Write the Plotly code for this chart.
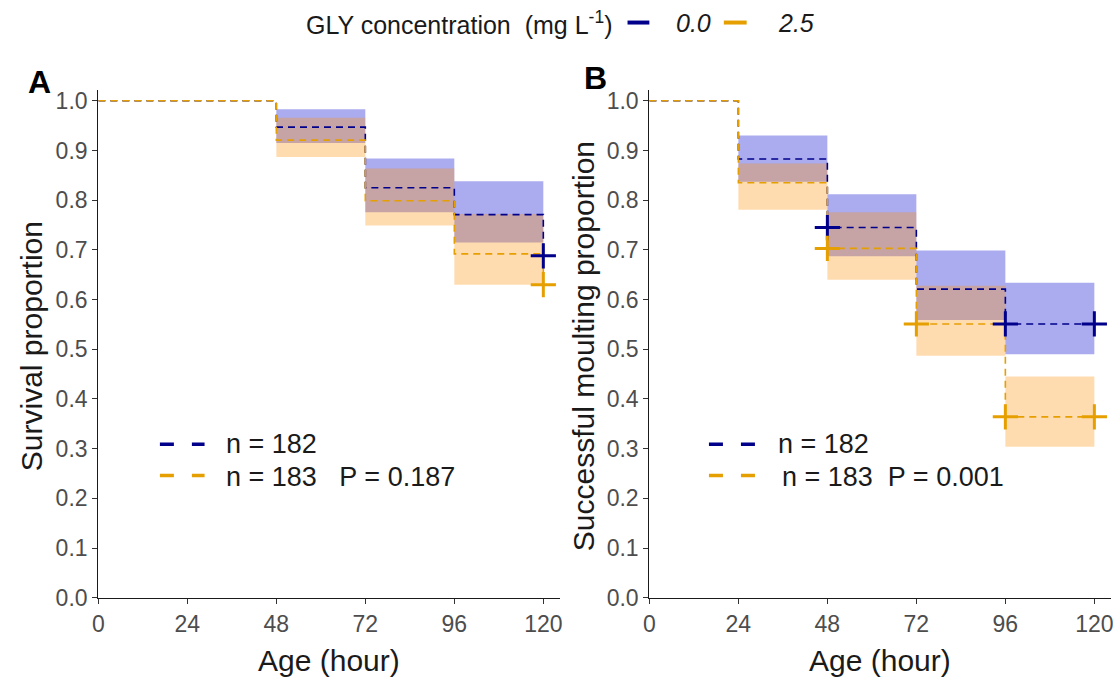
import plotly.graph_objects as go

# ---------------- data ----------------
A_times = [0, 48, 72, 96, 120]
A_blue_surv = [1.0, 0.947, 0.825, 0.771, 0.688]
A_blue_upper = [1.0, 0.983, 0.884, 0.838]
A_blue_lower = [1.0, 0.915, 0.776, 0.715]
A_orange_surv = [1.0, 0.921, 0.799, 0.692, 0.630]
A_orange_upper = [1.0, 0.966, 0.864, 0.772]
A_orange_lower = [1.0, 0.887, 0.749, 0.630]
A_blue_censor = [120]
A_orange_censor = [120]

B_times = [0, 24, 48, 72, 96, 120]
B_blue_surv = [1.0, 0.883, 0.745, 0.621, 0.551, 0.551]
B_blue_upper = [1.0, 0.930, 0.812, 0.699, 0.634]
B_blue_lower = [1.0, 0.837, 0.687, 0.559, 0.490]
B_orange_surv = [1.0, 0.835, 0.703, 0.551, 0.364, 0.364]
B_orange_upper = [1.0, 0.874, 0.776, 0.628, 0.445]
B_orange_lower = [1.0, 0.781, 0.640, 0.487, 0.304]
B_blue_censor = [48, 96, 120]
B_orange_censor = [48, 72, 96, 120]

group_names = ["0.0", "2.5"]
n_labels = ["n = 182", "n = 183"]
p_values = ["P = 0.187", "P = 0.001"]
x_ticks = [0, 24, 48, 72, 96, 120]
y_ticks = [0.0, 0.1, 0.2, 0.3, 0.4, 0.5, 0.6, 0.7, 0.8, 0.9, 1.0]
y_ticktext = ["0.0", "0.1", "0.2", "0.3", "0.4", "0.5", "0.6", "0.7", "0.8", "0.9", "1.0"]

# ---------------- style ----------------
W, H = 1119, 690
FONT = "Liberation Sans, Arial, sans-serif"
BLUE = "#00008B"
ORANGE = "#E69F00"
BLUE_FILL = "rgba(0,0,205,0.33)"
ORANGE_FILL = "rgba(255,145,10,0.32)"


def px_x(p):
    return p / W


def px_y(p):
    return 1 - p / H


A_dom = [px_x(93), px_x(558)]
B_dom = [px_x(648), px_x(1113)]
Y_dom = [px_y(609), px_y(90)]
X_RANGE = [0, 124.5]
Y_RANGE = [0, 1.0217]

fig = go.Figure()


def add_panel(times, series, xa, ya):
    # series: list of (surv, upper, lower, censor, color, fill)
    for surv, upper, lower, censor, color, fill in series:
        lo = lower + [lower[-1]]
        up = upper + [upper[-1]]
        fig.add_trace(go.Scatter(x=times, y=lo, mode="lines", line=dict(width=0, shape="hv"),
                                 xaxis=xa, yaxis=ya, showlegend=False, hoverinfo="skip"))
        fig.add_trace(go.Scatter(x=times, y=up, mode="lines", line=dict(width=0, shape="hv"),
                                 fill="tonexty", fillcolor=fill,
                                 xaxis=xa, yaxis=ya, showlegend=False, hoverinfo="skip"))
    for surv, upper, lower, censor, color, fill in series:
        fig.add_trace(go.Scatter(x=times, y=surv, mode="lines",
                                 line=dict(color=color, width=1.6, shape="hv", dash="7px,5px"),
                                 xaxis=xa, yaxis=ya, showlegend=False))
    for surv, upper, lower, censor, color, fill in series:
        cy = [surv[times.index(t)] for t in censor]
        fig.add_trace(go.Scatter(x=censor, y=cy, mode="markers",
                                 marker=dict(symbol="cross-thin", size=18, line=dict(color=color, width=3)),
                                 xaxis=xa, yaxis=ya, showlegend=False, cliponaxis=False))


add_panel(A_times, [
    (A_blue_surv, A_blue_upper, A_blue_lower, A_blue_censor, BLUE, BLUE_FILL),
    (A_orange_surv, A_orange_upper, A_orange_lower, A_orange_censor, ORANGE, ORANGE_FILL),
], "x", "y")
add_panel(B_times, [
    (B_blue_surv, B_blue_upper, B_blue_lower, B_blue_censor, BLUE, BLUE_FILL),
    (B_orange_surv, B_orange_upper, B_orange_lower, B_orange_censor, ORANGE, ORANGE_FILL),
], "x2", "y2")

axis_common = dict(showgrid=False, zeroline=False, showline=True, linecolor="#1a1a1a", linewidth=1.3,
                   ticks="outside", ticklen=5, tickwidth=1.3, tickcolor="#333333",
                   tickfont=dict(family=FONT, size=23, color="#4D4D4D"))

fig.update_layout(
    width=W, height=H,
    margin=dict(l=0, r=0, t=0, b=0),
    paper_bgcolor="white", plot_bgcolor="white",
    showlegend=False,
    xaxis=dict(domain=A_dom, range=X_RANGE, tickvals=x_ticks, anchor="y", **axis_common),
    yaxis=dict(domain=Y_dom, range=Y_RANGE, tickvals=y_ticks, ticktext=y_ticktext, anchor="x", **axis_common),
    xaxis2=dict(domain=B_dom, range=X_RANGE, tickvals=x_ticks, anchor="y2", **axis_common),
    yaxis2=dict(domain=Y_dom, range=Y_RANGE, tickvals=y_ticks, ticktext=y_ticktext, anchor="x2", **axis_common),
)

ann = []
shapes = []
TITLE_FONT = dict(family=FONT, size=30, color="#1a1a1a")

# axis titles
for cx in [(93 + 558) / 2, (648 + 1113) / 2]:
    ann.append(dict(text="Age (hour)", x=px_x(cx), y=px_y(673), xref="paper", yref="paper",
                    xanchor="center", yanchor="middle", showarrow=False, font=TITLE_FONT))
ann.append(dict(text="Survival proportion", x=px_x(26), y=px_y(352), xref="paper", yref="paper",
                xanchor="center", yanchor="middle", textangle=-90, showarrow=False, font=TITLE_FONT))
ann.append(dict(text="Successful moulting proportion", x=px_x(582), y=px_y(352), xref="paper", yref="paper",
                xanchor="center", yanchor="middle", textangle=-90, showarrow=False, font=TITLE_FONT))

# panel labels
ann.append(dict(text="<b>A</b>", x=px_x(34), y=px_y(82), xref="paper", yref="paper",
                xanchor="center", yanchor="middle", showarrow=False, font=dict(family=FONT, size=32, color="black")))
ann.append(dict(text="<b>B</b>", x=px_x(594), y=px_y(78), xref="paper", yref="paper",
                xanchor="center", yanchor="middle", showarrow=False, font=dict(family=FONT, size=32, color="black")))

# in-panel legends
LEG_FONT = dict(family=FONT, size=27, color="#1a1a1a")
for (lx0, lx1, tx0, tx1), pval in zip([(155, 200, 220, 220), (708, 755, 776, 780)], p_values):
    for yy, col in [(452, BLUE), (484, ORANGE)]:
        shapes.append(dict(type="line", xref="paper", yref="paper", x0=px_x(lx0), x1=px_x(lx1),
                           y0=px_y(yy), y1=px_y(yy), line=dict(color=col, width=3.5, dash="14px,18px")))
    gap = "\u00a0\u00a0\u00a0" if pval == p_values[0] else "\u00a0\u00a0"
    ann.append(dict(text=n_labels[0], x=px_x(tx0), y=px_y(452), xref="paper", yref="paper",
                    xanchor="left", yanchor="middle", showarrow=False, font=LEG_FONT))
    ann.append(dict(text=n_labels[1] + gap + pval, x=px_x(tx1), y=px_y(486), xref="paper", yref="paper",
                    xanchor="left", yanchor="middle", showarrow=False, font=LEG_FONT))

# top legend
TOP_FONT = dict(family=FONT, size=25, color="#1a1a1a")
ann.append(dict(text="GLY concentration\u00a0 (mg L<sup>-1</sup>)", x=px_x(300), y=px_y(21), xref="paper", yref="paper",
                xanchor="left", yanchor="middle", showarrow=False, font=TOP_FONT))
for (l0, l1, t0), col, name in zip([(626, 648, 673), (723, 746, 776)], [BLUE, ORANGE], group_names):
    shapes.append(dict(type="line", xref="paper", yref="paper", x0=px_x(l0), x1=px_x(l1),
                       y0=px_y(21), y1=px_y(21), line=dict(color=col, width=4)))
    ann.append(dict(text="<i>" + name + "</i>", x=px_x(t0), y=px_y(21), xref="paper", yref="paper",
                    xanchor="left", yanchor="middle", showarrow=False, font=TOP_FONT))

fig.update_layout(annotations=ann, shapes=shapes)
fig.write_html("out.html", config={"displayModeBar": False},
               post_script="document.body.style.margin='0px';document.body.style.overflow='hidden';")
